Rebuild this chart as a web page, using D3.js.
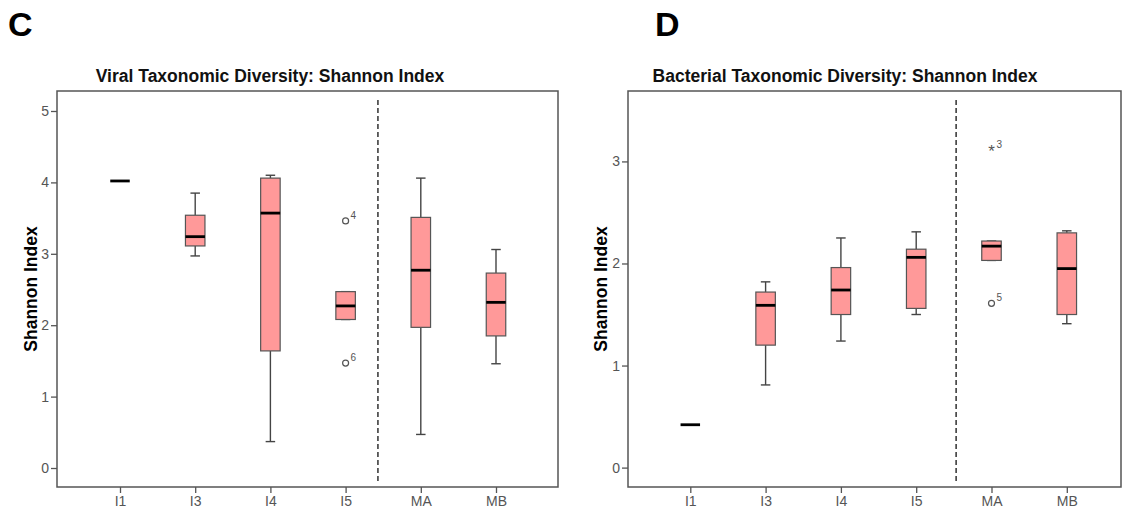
<!DOCTYPE html>
<html>
<head>
<meta charset="utf-8">
<script src="https://cdn.jsdelivr.net/npm/d3@7/dist/d3.min.js"></script>
<style>
  html, body { margin: 0; padding: 0; background: #fff; }
  svg { display: block; font-family: "Liberation Sans", Arial, sans-serif; }
</style>
</head>
<body>
<svg id="chart" width="1124" height="510"></svg>
<script>
// ---------------- DATA ----------------
const categories = ["I1", "I3", "I4", "I5", "MA", "MB"];

// Panel C: Viral Shannon index
const viralWhiskerLow  = [4.02, 2.97, 0.37, 2.08, 0.47, 1.46];
const viralQ1          = [4.02, 3.11, 1.64, 2.08, 1.97, 1.85];
const viralMedian      = [4.02, 3.24, 3.57, 2.27, 2.77, 2.32];
const viralQ3          = [4.02, 3.54, 4.06, 2.47, 3.51, 2.73];
const viralWhiskerHigh = [4.02, 3.85, 4.10, 2.47, 4.06, 3.06];
const viralOutliers = [
  { cat: "I5", value: 3.46, label: "4", type: "circle" },
  { cat: "I5", value: 1.47, label: "6", type: "circle" }
];
const viralTicks = [0, 1, 2, 3, 4, 5];

// Panel D: Bacterial Shannon index
const bactWhiskerLow  = [0.42, 0.81, 1.24, 1.50, 2.03, 1.41];
const bactQ1          = [0.42, 1.20, 1.50, 1.56, 2.03, 1.50];
const bactMedian      = [0.42, 1.59, 1.74, 2.06, 2.17, 1.95];
const bactQ3          = [0.42, 1.72, 1.96, 2.14, 2.22, 2.30];
const bactWhiskerHigh = [0.42, 1.82, 2.25, 2.31, 2.22, 2.32];
const bactOutliers = [
  { cat: "MA", value: 3.11, label: "3", type: "star" },
  { cat: "MA", value: 1.61, label: "5", type: "circle" }
];
const bactTicks = [0, 1, 2, 3];

// ---------------- DRAW ----------------
const svg = d3.select("#chart");
const FILL = "#ff9999";
const STROKE = "#555";

function panel(cfg) {
  const g = svg.append("g");
  const y = d3.scaleLinear().domain(cfg.yDomain).range([cfg.bottom, cfg.top]);
  const x = d3.scalePoint().domain(categories)
    .range([cfg.left + cfg.firstOffset, cfg.left + cfg.firstOffset + cfg.step * (categories.length - 1)]);

  // panel letter
  svg.append("text").attr("x", cfg.letterX).attr("y", 36)
    .attr("font-size", 34).attr("font-weight", "bold").attr("fill", "#000")
    .text(cfg.letter);

  // title
  svg.append("text").attr("x", cfg.titleX).attr("y", 82)
    .attr("text-anchor", "middle").attr("font-size", 17.5).attr("font-weight", "bold")
    .attr("fill", "#111").text(cfg.title);

  // y-axis title
  svg.append("text")
    .attr("transform", `translate(${cfg.yTitleX},${(cfg.top + cfg.bottom) / 2}) rotate(-90)`)
    .attr("text-anchor", "middle").attr("font-size", 17.5).attr("font-weight", "bold")
    .attr("fill", "#000").text("Shannon Index");

  // frame
  g.append("rect").attr("x", cfg.left).attr("y", cfg.top)
    .attr("width", cfg.right - cfg.left).attr("height", cfg.bottom - cfg.top)
    .attr("fill", "none").attr("stroke", STROKE).attr("stroke-width", 1.5);

  // y axis
  const yAxis = d3.axisLeft(y).tickValues(cfg.ticks).tickSize(6).tickPadding(2).tickFormat(d3.format("d"));
  const ya = g.append("g").attr("transform", `translate(${cfg.left},0)`).call(yAxis);
  ya.select(".domain").remove();
  ya.selectAll("line").attr("stroke", STROKE).attr("stroke-width", 1.3);
  ya.selectAll("text").attr("fill", "#555").attr("font-size", 14)
    .attr("font-family", "Liberation Sans, Arial, sans-serif");

  // x axis
  const xAxis = d3.axisBottom(x).tickSize(6).tickPadding(3);
  const xa = g.append("g").attr("transform", `translate(0,${cfg.bottom})`).call(xAxis);
  xa.select(".domain").remove();
  xa.selectAll("line").attr("stroke", STROKE).attr("stroke-width", 1.3);
  xa.selectAll("text").attr("fill", "#555").attr("font-size", 14)
    .attr("font-family", "Liberation Sans, Arial, sans-serif");

  // dashed separator
  const sepX = x(categories[3]) + cfg.sepFrac * cfg.step;
  g.append("line").attr("x1", sepX).attr("x2", sepX)
    .attr("y1", cfg.top + 9).attr("y2", cfg.bottom - 6)
    .attr("stroke", "#222").attr("stroke-width", 1.4).attr("stroke-dasharray", "5,3");

  const bw = 19.5, cw = 9.5;
  const data = categories.map((c, i) => ({
    cat: c, lo: cfg.lo[i], q1: cfg.q1[i], med: cfg.med[i], q3: cfg.q3[i], hi: cfg.hi[i]
  }));

  const bx = g.selectAll(".bx").data(data).enter().append("g");
  bx.each(function (d) {
    const s = d3.select(this);
    const cx = x(d.cat);
    if (d.q3 > d.q1) {
      // whiskers
      s.append("line").attr("x1", cx).attr("x2", cx).attr("y1", y(d.q3)).attr("y2", y(d.hi))
        .attr("stroke", "#444").attr("stroke-width", 1.4);
      s.append("line").attr("x1", cx).attr("x2", cx).attr("y1", y(d.q1)).attr("y2", y(d.lo))
        .attr("stroke", "#444").attr("stroke-width", 1.4);
      s.append("line").attr("x1", cx - cw / 2).attr("x2", cx + cw / 2).attr("y1", y(d.hi)).attr("y2", y(d.hi))
        .attr("stroke", "#444").attr("stroke-width", 1.4);
      s.append("line").attr("x1", cx - cw / 2).attr("x2", cx + cw / 2).attr("y1", y(d.lo)).attr("y2", y(d.lo))
        .attr("stroke", "#444").attr("stroke-width", 1.4);
      // box
      s.append("rect").attr("x", cx - bw / 2).attr("y", y(d.q3))
        .attr("width", bw).attr("height", y(d.q1) - y(d.q3))
        .attr("fill", FILL).attr("stroke", STROKE).attr("stroke-width", 1.2);
    }
    // median
    s.append("line").attr("x1", cx - bw / 2).attr("x2", cx + bw / 2)
      .attr("y1", y(d.med)).attr("y2", y(d.med))
      .attr("stroke", "#000").attr("stroke-width", 2.8);
  });

  // outliers
  cfg.outliers.forEach(o => {
    const cx = x(o.cat), cy = y(o.value);
    if (o.type === "circle") {
      g.append("circle").attr("cx", cx).attr("cy", cy).attr("r", 3)
        .attr("fill", "none").attr("stroke", "#555").attr("stroke-width", 1.2);
    } else {
      g.append("text").attr("x", cx).attr("y", cy + 7).attr("text-anchor", "middle")
        .attr("font-size", 17).attr("fill", "#555").text("*");
    }
    g.append("text").attr("x", cx + 5).attr("y", cy - 2)
      .attr("font-size", 10).attr("fill", "#555").text(o.label);
  });
}

panel({
  letter: "C", letterX: 8,
  title: "Viral Taxonomic Diversity: Shannon Index", titleX: 270,
  yTitleX: 37,
  left: 57, right: 558, top: 91, bottom: 487,
  yDomain: [-0.266, 5.28], ticks: viralTicks,
  firstOffset: 63, step: 75.2, sepFrac: 0.43,
  lo: viralWhiskerLow, q1: viralQ1, med: viralMedian, q3: viralQ3, hi: viralWhiskerHigh,
  outliers: viralOutliers
});

panel({
  letter: "D", letterX: 655,
  title: "Bacterial Taxonomic Diversity: Shannon Index", titleX: 845,
  yTitleX: 607,
  left: 628, right: 1121, top: 91, bottom: 487,
  yDomain: [-0.19, 3.69], ticks: bactTicks,
  firstOffset: 62.3, step: 75.3, sepFrac: 0.53,
  lo: bactWhiskerLow, q1: bactQ1, med: bactMedian, q3: bactQ3, hi: bactWhiskerHigh,
  outliers: bactOutliers
});
</script>
</body>
</html>
